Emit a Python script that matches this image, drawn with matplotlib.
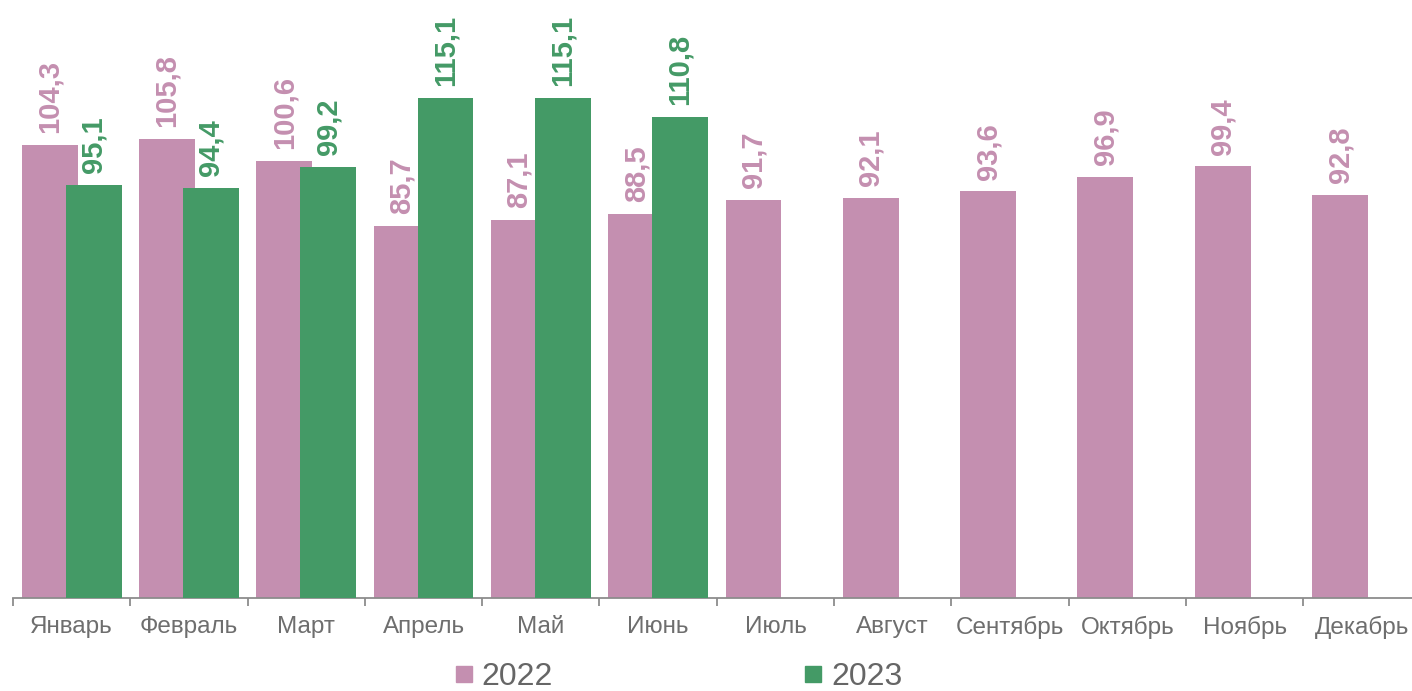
import matplotlib
matplotlib.use("Agg")
import matplotlib.pyplot as plt
from matplotlib.lines import Line2D
import numpy as np

months = ["Январь", "Февраль", "Март", "Апрель", "Май", "Июнь", "Июль",
          "Август", "Сентябрь", "Октябрь", "Ноябрь", "Декабрь"]
vals_2022 = [104.3, 105.8, 100.6, 85.7, 87.1, 88.5, 91.7, 92.1, 93.6, 96.9, 99.4, 92.8]
vals_2023 = [95.1, 94.4, 99.2, 115.1, 115.1, 110.8]
series_names = ["2022", "2023"]

c22 = "#C48FB0"
c23 = "#449A66"

plt.rcParams['font.family'] = ['Liberation Sans', 'DejaVu Sans']

W, H = 1412, 691
fig = plt.figure(figsize=(W / 100, H / 100), dpi=100)
ax_left = 13 / W
ax_w = 12 * 117.3 / W
ax_bottom = (H - 598) / H
ymax = 130
ax_h = ymax * 4.343 / H
ax = fig.add_axes([ax_left, ax_bottom, ax_w, ax_h])

x = np.arange(len(months))
bw = 0.477
off = 0.187

b1 = ax.bar(x[:len(vals_2022)] - off, vals_2022, width=bw, color=c22, zorder=2)
b2 = ax.bar(x[:len(vals_2023)] + off, vals_2023, width=bw, color=c23, zorder=3)

def fmt(v):
    return f"{v:.1f}".replace(".", ",")

for rect, v in zip(b1, vals_2022):
    ax.annotate(fmt(v), (rect.get_x() + rect.get_width() / 2, v),
                xytext=(0, 8.5), textcoords="offset points", rotation=90,
                ha="center", va="bottom", fontsize=21, fontweight="bold",
                color=c22, clip_on=False, zorder=4)
for rect, v in zip(b2, vals_2023):
    ax.annotate(fmt(v), (rect.get_x() + rect.get_width() / 2, v),
                xytext=(0, 8.5), textcoords="offset points", rotation=90,
                ha="center", va="bottom", fontsize=21, fontweight="bold",
                color=c23, clip_on=False, zorder=4)

ax.set_xlim(-0.5, len(months) - 0.5)
ax.set_ylim(0, ymax)

for s in ["left", "right", "top"]:
    ax.spines[s].set_visible(False)
ax.spines["bottom"].set_color("#8C8C8C")
ax.spines["bottom"].set_linewidth(1.3)
ax.set_yticks([])

ax.set_xticks(np.arange(len(months) + 1) - 0.5)
ax.set_xticklabels([])
ax.tick_params(axis="x", which="major", length=6, width=1.3, color="#8C8C8C")
ax.set_xticks(x, minor=True)
ax.set_xticklabels(months, minor=True)
ax.tick_params(axis="x", which="minor", length=0, pad=13, labelsize=17.5,
               labelcolor="#6E6E6E")

handles = [Line2D([], [], marker="s", linestyle="", color=c22, markersize=11),
           Line2D([], [], marker="s", linestyle="", color=c23, markersize=11)]
leg = fig.legend(handles, series_names, loc="center", ncol=2,
                 bbox_to_anchor=(0.481, 1 - 677 / H), frameon=False,
                 fontsize=23, handlelength=0.5, handletextpad=0.3,
                 columnspacing=7.9, borderpad=0)
for t in leg.get_texts():
    t.set_color("#666666")

fig.savefig("out.png", dpi=100)
